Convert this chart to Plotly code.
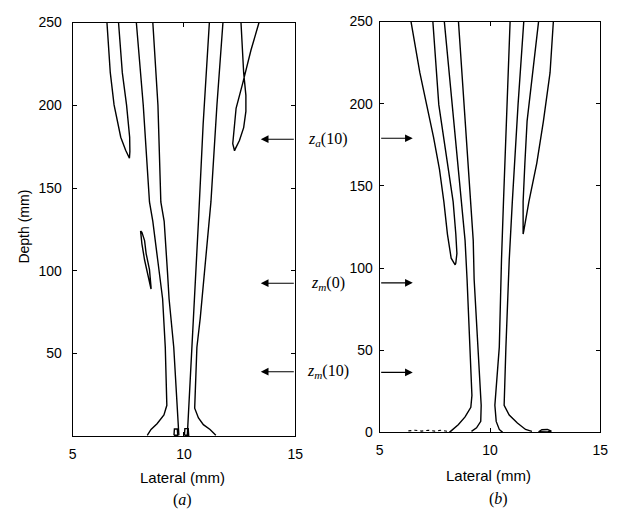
import plotly.graph_objects as go

# ---- panel (a): contour traces (lateral mm, depth mm) ----
a_left_lobe_x = [6.54, 6.69, 6.86, 7.16, 7.38, 7.55, 7.57, 7.56, 7.42, 7.23, 7.06]
a_left_lobe_y = [250, 219.7, 200.2, 180.7, 172.8, 168.0, 172.0, 180.7, 200.2, 219.7, 250]
a_outer_left_x = [7.86, 8.17, 8.45, 8.60, 8.82, 9.04, 9.16, 9.23, 9.10, 8.79, 8.52, 8.35]
a_outer_left_y = [250, 200.2, 141.6, 129.9, 106.5, 83.1, 53.8, 18.7, 12.9, 7.6, 4.1, 0.6]
a_inner_left_x = [8.60, 8.83, 8.96, 9.11, 9.26, 9.33, 9.54, 9.70, 9.76, 9.77]
a_inner_left_y = [250, 200.2, 141.6, 129.9, 98.9, 83.1, 53.8, 17.0, 5.3, 0.6]
a_inner_right_x = [11.14, 10.86, 10.65, 10.51, 10.36, 10.22, 10.17, 10.15]
a_inner_right_y = [250, 188.5, 129.9, 94.8, 53.8, 17.0, 5.3, 0.6]
a_outer_right_x = [11.75, 11.48, 11.21, 11.02, 10.73, 10.58, 10.48, 10.65, 10.87, 11.17, 11.43]
a_outer_right_y = [250, 200.2, 141.6, 112.4, 71.4, 53.8, 17.0, 11.1, 7.0, 4.1, 0.6]
a_right_lobe_x = [12.56, 12.61, 12.68, 12.78, 12.78, 12.68, 12.49, 12.31, 12.27,
                  12.19, 12.27, 12.34, 12.63, 13.01, 13.37]
a_right_lobe_y = [250, 233.4, 219.7, 206.0, 196.3, 186.5, 178.7, 173.8, 172.5,
                  176.8, 186.5, 198.2, 212.9, 233.4, 250]
a_island_x = [8.05, 8.11, 8.23, 8.38, 8.52, 8.52, 8.45, 8.30, 8.23, 8.11, 8.05]
a_island_y = [124.1, 116.3, 106.5, 96.8, 89.0, 90.1, 100.7, 110.4, 118.2, 123.2, 124.1]
a_foot_left_x = [9.55, 9.57, 9.70, 9.72, 9.55]
a_foot_left_y = [0.6, 4.4, 4.4, 0.6, 0.6]
a_foot_right_x = [10.02, 10.04, 10.19, 10.21, 10.02]
a_foot_right_y = [0.6, 4.6, 4.6, 0.6, 0.6]

# ---- panel (b): contour traces ----
b_left_lobe_x = [6.42, 6.82, 7.13, 7.44, 7.71, 7.91, 8.07, 8.24, 8.42,
                 8.45, 8.50, 8.45, 8.33, 8.02, 7.68, 7.41]
b_left_lobe_y = [250, 218.9, 199.3, 179.7, 160.0, 140.3, 120.7, 106.0, 102.0,
                 103.0, 108.9, 120.7, 140.3, 169.8, 199.3, 250]
b_outer_left_x = [7.93, 8.29, 8.72, 8.87, 8.96, 9.09, 9.18, 9.13, 8.87, 8.56, 8.33, 8.16]
b_outer_left_y = [250, 199.3, 140.3, 116.7, 93.2, 51.9, 22.4, 15.3, 9.4, 4.7, 1.8, 0.0]
b_inner_left_x = [8.57, 8.82, 9.09, 9.24, 9.28, 9.44, 9.60, 9.58, 9.39, 9.16]
b_inner_left_y = [250, 199.3, 140.3, 116.7, 93.2, 51.9, 16.5, 6.7, 2.8, 0.6]
b_inner_right_x = [10.91, 10.76, 10.61, 10.52, 10.42, 10.22, 10.28, 10.42, 10.57]
b_inner_right_y = [250, 199.3, 140.3, 104.9, 51.9, 16.5, 6.7, 1.8, 0.0]
b_outer_right_x = [11.53, 11.27, 11.01, 10.87, 10.72, 10.64, 10.87, 11.24, 11.61, 11.90]
b_outer_right_y = [250, 199.3, 140.3, 104.9, 51.9, 16.5, 10.6, 5.7, 1.8, 0.6]
b_right_lobe_x = [12.20, 11.95, 11.68, 11.58, 11.50, 11.50, 11.53, 11.76, 12.12, 12.42, 12.72, 12.87]
b_right_lobe_y = [250, 218.9, 189.4, 163.9, 140.3, 120.7, 122.6, 140.3, 163.9, 189.4, 218.9, 250]
b_foot_lobe_x = [12.20, 12.35, 12.60, 12.78, 12.60, 12.35, 12.20]
b_foot_lobe_y = [0.4, 1.6, 1.8, 0.7, 0.3, 0.3, 0.4]
b_foot_ripple_x = [6.30, 6.60, 6.90, 7.20, 7.50, 7.80, 8.10]
b_foot_ripple_y = [0.9, 1.3, 0.8, 1.3, 0.8, 1.3, 0.6]

# ---- depth markers ----
marker_labels = ["<i>z</i><sub><i>a</i></sub>(10)",
                 "<i>z</i><sub><i>m</i></sub>(0)",
                 "<i>z</i><sub><i>m</i></sub>(10)"]
a_marker_depths = [179.5, 92.5, 39.0]
b_marker_depths = [179.0, 91.0, 36.5]
a_arrow_head_x = 13.45
b_arrow_head_x = 6.50

x_ticks = [5, 10, 15]
a_y_ticks = [50, 100, 150, 200, 250]
b_y_ticks = [0, 50, 100, 150, 200, 250]

W, H = 627, 515

fig = go.Figure()

line_style = dict(color="black", width=1.4)

a_traces = [
    (a_left_lobe_x, a_left_lobe_y), (a_outer_left_x, a_outer_left_y),
    (a_inner_left_x, a_inner_left_y), (a_inner_right_x, a_inner_right_y),
    (a_outer_right_x, a_outer_right_y), (a_right_lobe_x, a_right_lobe_y),
    (a_island_x, a_island_y), (a_foot_left_x, a_foot_left_y),
    (a_foot_right_x, a_foot_right_y),
]
b_traces = [
    (b_left_lobe_x, b_left_lobe_y), (b_outer_left_x, b_outer_left_y),
    (b_inner_left_x, b_inner_left_y), (b_inner_right_x, b_inner_right_y),
    (b_outer_right_x, b_outer_right_y), (b_right_lobe_x, b_right_lobe_y),
    (b_foot_lobe_x, b_foot_lobe_y),
]
for xs, ys in a_traces:
    fig.add_trace(go.Scatter(x=xs, y=ys, mode="lines", line=line_style,
                             xaxis="x", yaxis="y", showlegend=False,
                             hoverinfo="skip"))
for xs, ys in b_traces:
    fig.add_trace(go.Scatter(x=xs, y=ys, mode="lines", line=line_style,
                             xaxis="x2", yaxis="y2", showlegend=False,
                             hoverinfo="skip"))
fig.add_trace(go.Scatter(x=b_foot_ripple_x, y=b_foot_ripple_y, mode="lines",
                         line=dict(color="black", width=1.1, dash="dot"),
                         xaxis="x2", yaxis="y2", showlegend=False,
                         hoverinfo="skip"))

tick_font = dict(family="Liberation Sans, Arial, sans-serif", size=14, color="black")
axis_common = dict(showline=True, linecolor="black", linewidth=1.2, mirror="ticks",
                   ticks="inside", ticklen=4, tickwidth=1, tickcolor="black",
                   showgrid=False, zeroline=False, tickfont=tick_font)

fig.update_layout(
    width=W, height=H,
    margin=dict(l=0, r=0, t=0, b=0),
    paper_bgcolor="white", plot_bgcolor="white",
    xaxis=dict(domain=[70 / W, 297 / W], range=[5, 15], tickvals=x_ticks,
               anchor="y", ticklabelstandoff=5, **axis_common),
    yaxis=dict(domain=[1 - 442 / H, 1 - 15 / H], range=[0, 250], tickvals=a_y_ticks,
               anchor="x", ticklabelstandoff=7, **axis_common),
    xaxis2=dict(domain=[383 / W, 608 / W], range=[5, 15], tickvals=x_ticks,
                anchor="y2", ticklabelstandoff=5, **axis_common),
    yaxis2=dict(domain=[1 - 438 / H, 1 - 14 / H], range=[0, 250], tickvals=b_y_ticks,
                anchor="x2", ticklabelstandoff=3, **axis_common),
)

annotations = []
serif = "Liberation Serif, Times New Roman, serif"
sans = "Liberation Sans, Arial, sans-serif"

# arrows pointing into each panel at the marked depths
for d in a_marker_depths:
    annotations.append(dict(x=a_arrow_head_x, y=d, xref="x", yref="y",
                            ax=15, ay=d, axref="x", ayref="y", text="",
                            showarrow=True, arrowhead=2, arrowsize=1.4,
                            arrowwidth=1.1, arrowcolor="black", standoff=0))
for d in b_marker_depths:
    annotations.append(dict(x=b_arrow_head_x, y=d, xref="x2", yref="y2",
                            ax=5, ay=d, axref="x2", ayref="y2", text="",
                            showarrow=True, arrowhead=2, arrowsize=1.4,
                            arrowwidth=1.1, arrowcolor="black", standoff=0))
for lab, d in zip(marker_labels, a_marker_depths):
    annotations.append(dict(x=330 / W, y=d, xref="paper", yref="y", text=lab,
                            showarrow=False, xanchor="center", yanchor="middle",
                            font=dict(family=serif, size=16, color="black")))


def caption(text, px, py, font, angle=0):
    return dict(x=px / W, y=1 - py / H, xref="paper", yref="paper", text=text,
                textangle=angle, showarrow=False, xanchor="center",
                yanchor="middle", font=font)


sans_font = dict(family=sans, size=15, color="black")
serif_font = dict(family=serif, size=16, color="black")

# axis titles and panel captions
annotations += [
    caption("Lateral (mm)", 182, 485, sans_font),
    caption("Lateral (mm)", 494, 482, sans_font),
    caption("Depth (mm)", 20, 226, dict(family=sans, size=14, color="black"), -90),
    caption("(<i>a</i>)", 182, 508, serif_font),
    caption("(<i>b</i>)", 504, 507, serif_font),
]
fig.update_layout(annotations=annotations)

fig.write_html("out.html")
